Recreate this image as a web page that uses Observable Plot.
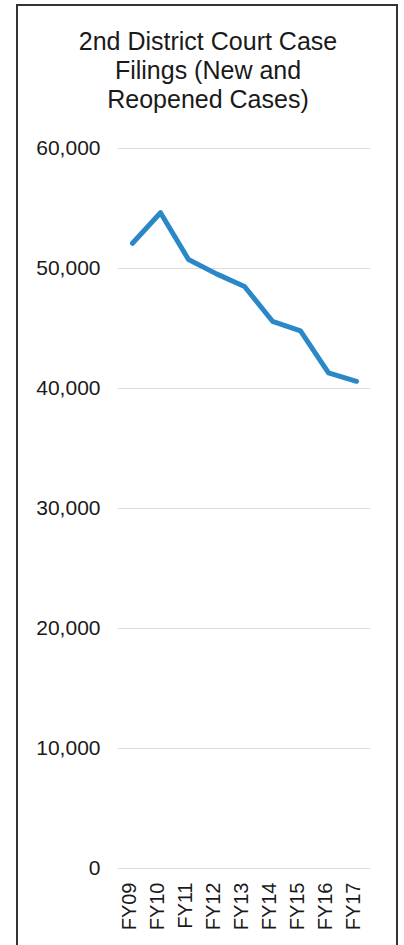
<!DOCTYPE html>
<html>
<head>
<meta charset="utf-8">
<script src="https://cdn.jsdelivr.net/npm/d3@7"></script>
<script src="https://cdn.jsdelivr.net/npm/@observablehq/plot@0.6"></script>
<style>
  html, body { margin: 0; padding: 0; background: #fff; }
  body { width: 404px; height: 945px; position: relative; overflow: hidden; font-family: "Liberation Sans", Arial, sans-serif; }
  #frame { position: absolute; left: 16px; top: 4px; width: 382px; height: 1000px; border: 2px solid #333; border-bottom: none; box-sizing: border-box; }
  #title { position: absolute; left: 16px; width: 384px; top: 27px; text-align: center; font-size: 25px; line-height: 29px; color: #1a1a1a; }
  #chart { position: absolute; left: 0; top: 130px; }
</style>
</head>
<body>
<div id="frame"></div>
<div id="title">2nd District Court Case<br>Filings (New and<br>Reopened Cases)</div>
<div id="chart"></div>
<script>
const years = ["FY09", "FY10", "FY11", "FY12", "FY13", "FY14", "FY15", "FY16", "FY17"];
const filings = [52100, 54650, 50750, 49550, 48500, 45600, 44800, 41300, 40600];
const yTicks = [0, 10000, 20000, 30000, 40000, 50000, 60000];

const data = years.map((fy, i) => ({fy, value: filings[i]}));

const chart = Plot.plot({
  width: 404,
  height: 815,
  marginLeft: 118,
  marginRight: 34,
  marginTop: 18,
  marginBottom: 77,
  style: {fontFamily: "'Liberation Sans', Arial, sans-serif", color: "#1a1a1a", background: "transparent"},
  x: {type: "point", domain: years, padding: 0.5, label: null},
  y: {domain: [0, 60000], label: null},
  marks: [
    Plot.ruleY(yTicks, {stroke: "#dcdcdc", strokeWidth: 1}),
    Plot.axisY({ticks: yTicks, tickFormat: d3.format(","), tickSize: 0, tickPadding: 18, fontSize: 21, label: null}),
    Plot.axisX({tickSize: 0, tickRotate: -90, tickPadding: 14, fontSize: 20, dx: -3, label: null}),
    Plot.line(data, {x: "fy", y: "value", stroke: "#2b88c8", strokeWidth: 5, strokeLinejoin: "round", strokeLinecap: "round"})
  ]
});
document.getElementById("chart").appendChild(chart);
</script>
</body>
</html>
